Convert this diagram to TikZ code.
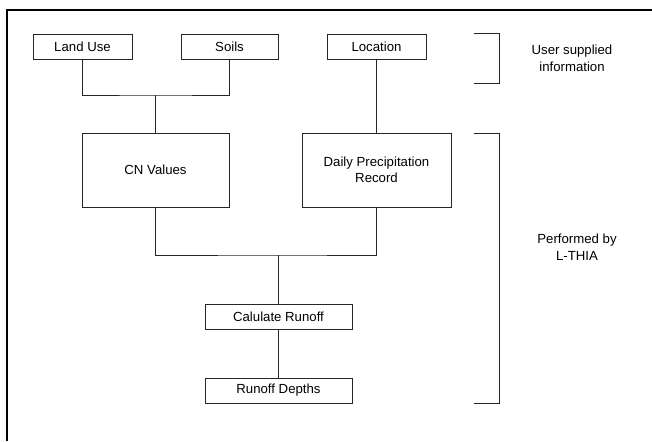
\documentclass[tikz,border=0pt]{standalone}
\usepackage{fontspec}
\setmainfont{Liberation Sans}
\begin{document}
\begin{tikzpicture}[x=1pt,y=-1pt,
  box/.style={draw=black!85,line width=0.9pt,inner sep=0pt,align=center,font=\fontsize{13.2}{16}\selectfont},
  conn/.style={draw=black!85,line width=0.9pt},
  lbl/.style={align=center,font=\fontsize{13.2}{17}\selectfont}]
\useasboundingbox (0,0) rectangle (652,441);
\draw[line width=2.2pt] (7,441) -- (7,10) -- (652,10);
\node[box,minimum width=99pt,minimum height=25pt] (land) at (82.5,46.5) {Land Use};
\node[box,minimum width=97pt,minimum height=25pt] (soils) at (229.5,46.5) {Soils};
\node[box,minimum width=99pt,minimum height=25pt] (loc) at (376.5,46.5) {Location};
\node[box,minimum width=147pt,minimum height=74pt] (cn) at (155.5,170) {CN Values};
\node[box,minimum width=149pt,minimum height=74pt] (daily) at (376.5,170) {Daily Precipitation\\Record};
\node[box,minimum width=147pt,minimum height=25pt] (calc) at (278.5,316.5) {Calulate Runoff};
\node[box,minimum width=147pt,minimum height=25pt] (depths) at (278.5,390.5) {Runoff Depths};
\coordinate (j1) at (155.5,95);
\coordinate (j2) at (278.5,255);
\draw[conn] (land.south) |- (j1) -| (soils.south);
\draw[conn] (j1) -- (cn.north);
\draw[conn] (loc.south) -- (daily.north);
\draw[conn] (cn.south) |- (j2) -| (daily.south);
\draw[conn] (j2) -- (calc.north);
\draw[conn] (calc.south) -- (depths.north);
\coordinate (b1a) at (474,33);
\coordinate (b1b) at (499,33);
\coordinate (b1c) at (499,83);
\coordinate (b1d) at (474,83);
\draw[conn] (b1a) -- (b1b) -- (b1c) -- (b1d);
\coordinate (b2a) at (474,133);
\coordinate (b2b) at (499,133);
\coordinate (b2c) at (499,403);
\coordinate (b2d) at (474,403);
\draw[conn] (b2a) -- (b2b) -- (b2c) -- (b2d);
\node[lbl] (user) at (572,58.5) {User supplied\\information};
\node[lbl] (perf) at (577,247.5) {Performed by\\L-THIA};
\end{tikzpicture}
\end{document}
